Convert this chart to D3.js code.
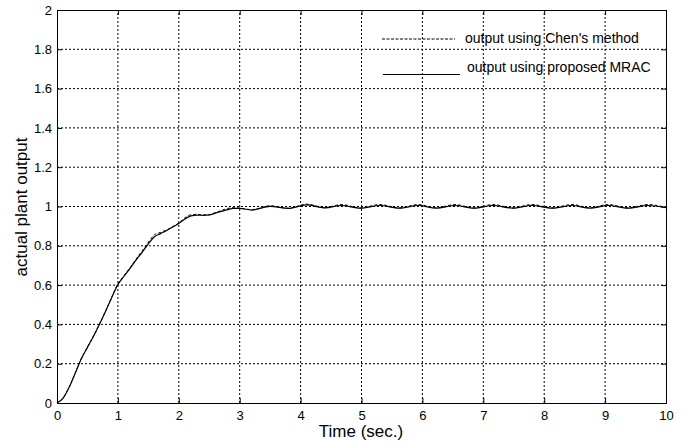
<!DOCTYPE html>
<html>
<head>
<meta charset="utf-8">
<script src="https://cdn.jsdelivr.net/npm/d3@7"></script>
<style>
  body { margin: 0; background: #fff; }
  text { font-family: "Liberation Sans", Arial, sans-serif; }
</style>
</head>
<body>
<div id="chart"></div>
<script>
// sample times (s): 0.1 steps during the rise, then the ripple extrema
const times = [0, 0.1, 0.2, 0.3, 0.4, 0.5, 0.6, 0.7, 0.8, 0.9,
  1.0, 1.1, 1.2, 1.3, 1.4, 1.5, 1.6, 1.7, 1.8, 1.9,
  2.0, 2.1, 2.2, 2.3, 2.4, 2.5, 2.6, 2.7, 2.8, 2.9,
  3.0, 3.2, 3.5, 3.8, 4.1, 4.4, 4.67, 4.98, 5.3, 5.62,
  5.93, 6.23, 6.53, 6.85, 7.16, 7.48, 7.8, 8.13, 8.46, 8.75,
  9.05, 9.38, 9.7, 10.0]
const mracOut = [0, 0.025, 0.08, 0.152, 0.225, 0.283, 0.34, 0.402, 0.468, 0.537,
  0.603, 0.645, 0.685, 0.728, 0.768, 0.81, 0.846, 0.862, 0.878, 0.896,
  0.913, 0.936, 0.952, 0.956, 0.955, 0.957, 0.966, 0.975, 0.984, 0.99,
  0.99, 0.982, 1.001, 0.99, 1.008, 0.993, 1.005, 0.992, 1.005, 0.992,
  1.005, 0.992, 1.005, 0.992, 1.005, 0.992, 1.005, 0.992, 1.005, 0.992,
  1.005, 0.992, 1.005, 0.994]
const chenOut = [0, 0.025, 0.082, 0.154, 0.227, 0.285, 0.342, 0.404, 0.47, 0.54,
  0.606, 0.648, 0.689, 0.733, 0.775, 0.818, 0.856, 0.868, 0.881, 0.898,
  0.916, 0.942, 0.958, 0.96, 0.957, 0.958, 0.969, 0.98, 0.99, 0.994,
  0.992, 0.984, 1.004, 0.991, 1.012, 0.994, 1.01, 0.993, 1.01, 0.993,
  1.01, 0.993, 1.01, 0.993, 1.01, 0.993, 1.01, 0.993, 1.01, 0.993,
  1.01, 0.993, 1.01, 0.995]
const xTicks = [0, 1, 2, 3, 4, 5, 6, 7, 8, 9, 10]
const yTicks = [0, 0.2, 0.4, 0.6, 0.8, 1, 1.2, 1.4, 1.6, 1.8, 2]
const legendLabels = ["output using Chen's method", 'output using proposed MRAC']

const width = 683
const height = 443
const margin = {top: 10, right: 17, bottom: 40, left: 57}
const x = d3.scaleLinear().domain([0, 10]).range([margin.left, width - margin.right])
const y = d3.scaleLinear().domain([0, 2]).range([height - margin.bottom, margin.top])

const svg = d3.select('#chart')
  .append('svg')
  .attr('width', width)
  .attr('height', height)

// dotted grid
svg.append('g')
  .selectAll('line')
  .data(xTicks.slice(1, -1))
  .enter()
  .append('line')
  .attr('x1', d => x(d)).attr('x2', d => x(d))
  .attr('y1', y(0)).attr('y2', y(2))
  .style('stroke', '#000')
  .style('stroke-width', 1)
  .style('stroke-dasharray', '2,2')
svg.append('g')
  .selectAll('line')
  .data(yTicks.slice(1, -1))
  .enter()
  .append('line')
  .attr('x1', x(0)).attr('x2', x(10))
  .attr('y1', d => y(d)).attr('y2', d => y(d))
  .style('stroke', '#000')
  .style('stroke-width', 1)
  .style('stroke-dasharray', '2,2')

// axes with inward ticks, matlab style box
svg.append('g')
  .attr('transform', `translate(0,${y(0)})`)
  .call(d3.axisBottom(x).tickValues(xTicks).tickSize(-5).tickPadding(8).tickFormat(d3.format('d')))
svg.append('g')
  .attr('transform', `translate(${x(0)},0)`)
  .call(d3.axisLeft(y).tickValues(yTicks).tickSize(-5).tickPadding(5).tickFormat(d => String(d)))
svg.append('g')
  .attr('transform', `translate(0,${y(2)})`)
  .call(d3.axisTop(x).tickValues(xTicks).tickSize(-5).tickFormat(''))
svg.append('g')
  .attr('transform', `translate(${x(10)},0)`)
  .call(d3.axisRight(y).tickValues(yTicks).tickSize(-5).tickFormat(''))
svg.selectAll('.domain, .tick line').style('stroke', '#000')
svg.selectAll('.tick text')
  .style('font-size', '13px')
  .style('fill', '#000')
  .style('font-family', '"Liberation Sans", Arial, sans-serif')

// curves
const line = d3.line()
  .x((d, i) => x(times[i]))
  .y(d => y(d))
  .curve(d3.curveMonotoneX)
svg.append('path')
  .datum(chenOut)
  .attr('d', line)
  .style('fill', 'none')
  .style('stroke', '#000')
  .style('stroke-width', 1)
  .style('stroke-dasharray', '3,2')
svg.append('path')
  .datum(mracOut)
  .attr('d', line)
  .style('fill', 'none')
  .style('stroke', '#000')
  .style('stroke-width', 1.2)

// legend (plain text lines, no box)
const legend = svg.append('g')
legend.append('line')
  .attr('x1', 382).attr('x2', 455).attr('y1', 39).attr('y2', 39)
  .style('stroke', '#000').style('stroke-dasharray', '3,1.5')
legend.append('line')
  .attr('x1', 383).attr('x2', 460).attr('y1', 74.5).attr('y2', 74.5)
  .style('stroke', '#000').style('stroke-width', 1.2)
legend.selectAll('text')
  .data(legendLabels)
  .enter()
  .append('text')
  .attr('x', (d, i) => i === 0 ? 465 : 467)
  .attr('y', (d, i) => i === 0 ? 43 : 72)
  .style('font-size', '14px')
  .text(d => d)

// axis titles
svg.append('text')
  .attr('x', 361)
  .attr('y', 437)
  .attr('text-anchor', 'middle')
  .style('font-size', '17px')
  .text('Time (sec.)')
svg.append('text')
  .attr('transform', 'translate(27,207) rotate(-90)')
  .attr('text-anchor', 'middle')
  .style('font-size', '17px')
  .text('actual plant output')
</script>
</body>
</html>
